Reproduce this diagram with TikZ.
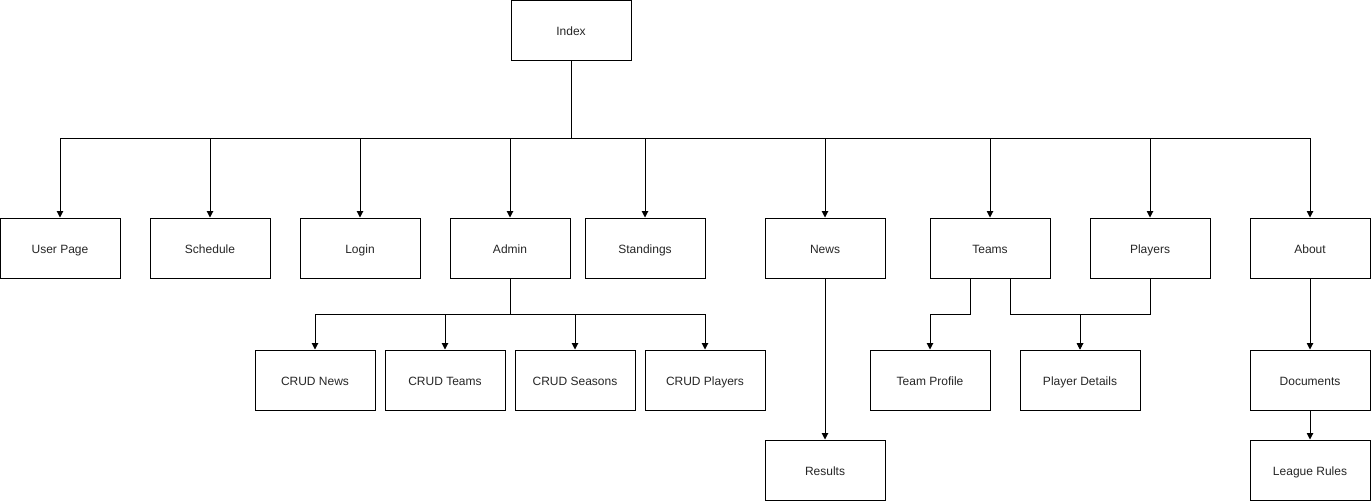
\documentclass[tikz,border=0pt]{standalone}
\usepackage{fontspec}
\setmainfont{Liberation Sans}
\usetikzlibrary{arrows.meta}
\begin{document}
\begin{tikzpicture}[x=1pt,y=-1pt,
  box/.style={draw=black,line width=1pt,minimum width=120pt,minimum height=60pt,inner sep=0pt,
    font=\fontsize{12}{14}\selectfont,text=black!85,fill=white,text height=10.8pt,text depth=0.2pt},
  arr/.style={draw=black,line width=1pt,-{Triangle[width=6.5pt,length=6.5pt]}},
  ln/.style={draw=black,line width=1pt}]
\useasboundingbox (0,0) rectangle (1371,501);
\node[box] (idx) at (571,30) {Index};
\node[box] (user) at (60,248) {User Page};
\node[box] (sched) at (210,248) {Schedule};
\node[box] (login) at (360,248) {Login};
\node[box] (admin) at (510,248) {Admin};
\node[box] (stand) at (645,248) {Standings};
\node[box] (news) at (825,248) {News};
\node[box] (teams) at (990,248) {Teams};
\node[box] (players) at (1150,248) {Players};
\node[box] (about) at (1310,248) {About};
\node[box] (cnews) at (315,380) {CRUD News};
\node[box] (cteams) at (445,380) {CRUD Teams};
\node[box] (cseas) at (575,380) {CRUD Seasons};
\node[box] (cplay) at (705,380) {CRUD Players};
\node[box] (tprof) at (930,380) {Team Profile};
\node[box] (pdet) at (1080,380) {Player Details};
\node[box] (docs) at (1310,380) {Documents};
\node[box] (res) at (825,470) {Results};
\node[box] (rules) at (1310,470) {League Rules};
\foreach \t in {user,sched,login,admin,stand,news,teams,players,about}
  \draw[arr] (idx.south) -- ++(0,78) -| (\t.north);
\foreach \t in {cnews,cteams,cseas,cplay}
  \draw[arr] (admin.south) -- ++(0,36) -| (\t.north);
\draw[arr] ([xshift=-20pt]teams.south) -- ++(0,36) -| (tprof.north);
\draw[arr] ([xshift=20pt]teams.south) -- ++(0,36) -| (pdet.north);
\draw[arr] (players.south) -- ++(0,36) -| (pdet.north);
\draw[arr] (news.south) -- (res.north);
\draw[arr] (about.south) -- (docs.north);
\draw[arr] (docs.south) -- (rules.north);
\end{tikzpicture}
\end{document}
